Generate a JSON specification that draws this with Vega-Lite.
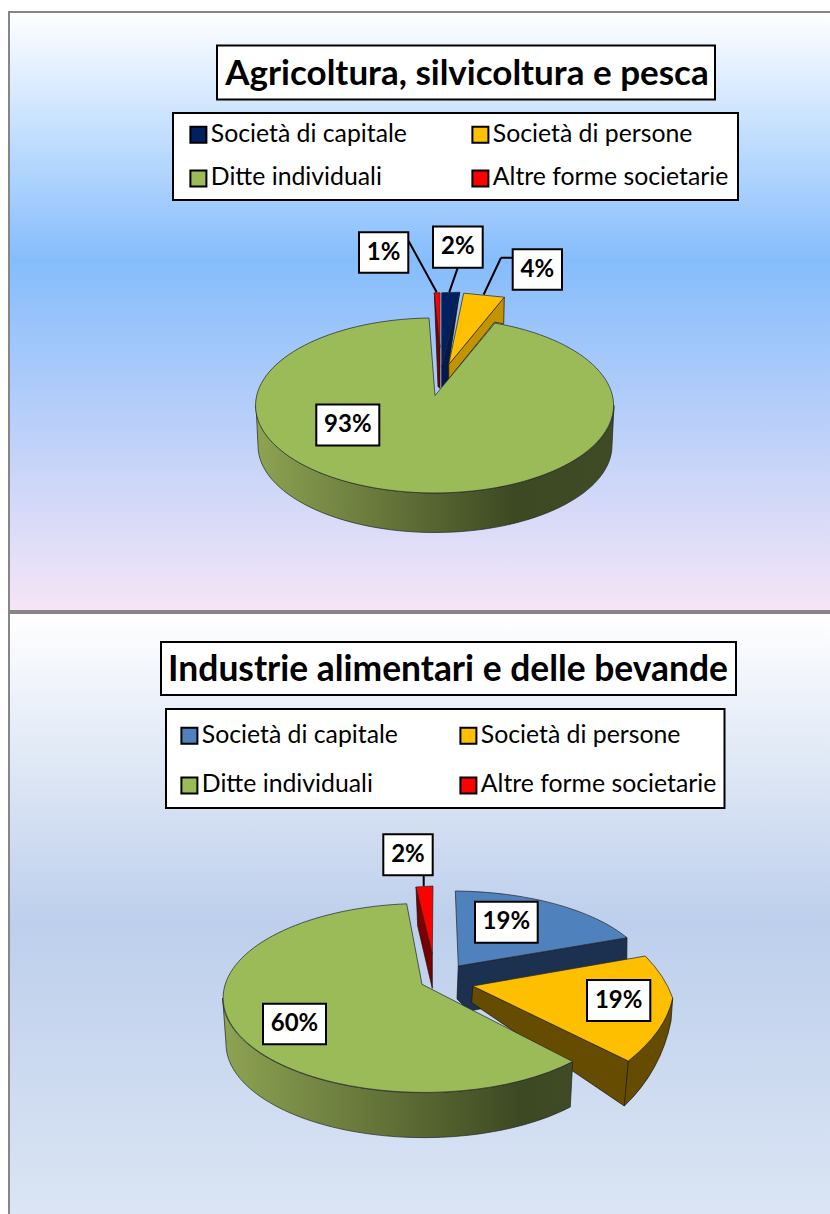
{
"$schema":"https://vega.github.io/schema/vega-lite/v6.json",
"padding":{"left":8,"top":11,"right":0,"bottom":0},
"background":"white",
"spacing":0,
"resolve":{"scale":{"color":"independent","shape":"independent","fill":"independent"},"legend":{"color":"independent"}},
"config":{"legend":{"strokeWidth":2},"font":"Lato"},
"datasets":{
"agri":[{"slice":"Società di capitale","share":0.02},{"slice":"Società di persone","share":0.04},{"slice":"Ditte individuali","share":0.93},{"slice":"Altre forme societarie","share":0.01}],
"food":[{"slice":"Società di capitale","share":0.19},{"slice":"Società di persone","share":0.19},{"slice":"Ditte individuali","share":0.60},{"slice":"Altre forme societarie","share":0.02}]
},
"vconcat":[
{"width":824,"height":599,
"title":{"text":"Agricoltura, silvicoltura e pesca","anchor":"middle","frame":"group","dx":46,"offset":-80,"font":"Lato","fontWeight":"bold","fontSize":35,"color":"black"},
"view":{"stroke":"#868686","strokeWidth":2,"fill":{"gradient":"linear","x1":0,"y1":0,"x2":0,"y2":1,"stops":[{"offset":0,"color":"#ffffff"},{"offset":0.415,"color":"#85bdfc"},{"offset":1,"color":"#f6e5f6"}]}},
"data":{"name":"agri"},
"resolve":{"scale":{"shape":"independent","fill":"independent"}},
"layer":[
{"mark":{"type":"point","shape":"M-204,-266 H294 V-212 H-204 Z","size":4,"filled":true,"fill":"white","stroke":"black","strokeWidth":2,"opacity":1},"transform":[{"filter":"datum.slice==='Ditte individuali'"}],"encoding":{}},
{"mark":{"type":"point","size":4,"filled":true,"opacity":1,"stroke":"#111","strokeWidth":0.7},
"transform":[{"filter":"datum.slice!=='Ditte individuali'"}],
"encoding":{
"fill":{"field":"slice","type":"nominal","legend":null,"scale":{"domain":["Società di capitale","Società di persone","Altre forme societarie"],"range":["#001a50","#c49300","#7a0000"]}},
"shape":{"field":"slice","type":"nominal","legend":null,"scale":{"domain":["Società di capitale","Società di persone","Altre forme societarie"],"range":["M38.7,-19.3 L27.7,52.3 L27.7,67.3 L20.7,75.7 L20.7,55.7 Z","M83.3,-14.3 L82.7,12.3 L73.5,10.7 L27.7,67.3 L27.7,53 Z","M13.3,-18.7 L19,36 L19,77 L17,75 Z"]}}
}},
{"mark":{"type":"point","shape":"M-165,94 A179,87.5 0 0 0 193,94 L191,134 A177,87 0 0 1 -163,134 Z","size":4,"filled":true,"opacity":1,"stroke":"#222","strokeWidth":0.7,"fill":{"gradient":"linear","x1":0,"y1":0,"x2":1,"y2":0,"stops":[{"offset":0,"color":"#8ea352"},{"offset":0.72,"color":"#3d4922"},{"offset":1,"color":"#3f4b24"}]}},
"transform":[{"filter":"datum.slice==='Ditte individuali'"}],"encoding":{}},
{"mark":{"type":"point","size":4,"filled":true,"opacity":1,"stroke":"#222","strokeWidth":0.7},
"encoding":{
"color":{"field":"slice","type":"nominal","sort":null,
"scale":{"domain":["Società di capitale","Società di persone","Ditte individuali","Altre forme societarie"],"range":["#002060","#ffc000","#9bbb59","#ff0000"]},
"legend":{"orient":"none","legendX":164,"legendY":101,"columns":2,"direction":"horizontal","title":null,"fillColor":"white","strokeColor":"black","padding":9,"symbolType":"square","symbolSize":256,"symbolStrokeColor":"black","symbolStrokeWidth":2,"symbolOffset":4,"labelFont":"Lato","labelFontSize":24.8,"labelColor":"black","labelOffset":0,"labelLimit":400,"rowPadding":18,"columnPadding":57,"gridAlign":"each"}},
"shape":{"field":"slice","type":"nominal","legend":null,"scale":{"domain":["Società di capitale","Società di persone","Ditte individuali","Altre forme societarie"],"range":["M20.7,-18.7 L38.7,-19.3 L20.7,55.7 Z","M42.7,-18.3 L83.3,-14.3 L27.7,53 Z","M14,84 L8,6.5 A179,87.5 0 1 0 74,11.6 Z","M13.3,-18.7 L19,-18.7 L19,36 Z"]}}
}},
{"mark":{"type":"point","size":4,"filled":true,"fill":"white","opacity":1,"stroke":"black","strokeWidth":2},
"encoding":{"shape":{"field":"slice","type":"nominal","legend":null,"scale":{"domain":["Società di capitale","Società di persone","Ditte individuali","Altre forme societarie"],"range":["M12,-85 H61.7 V-43.7 H12 Z M36.7,-43.7 L28.3,-19.3","M91.7,-62.3 H141 V-21.7 H91.7 Z M91.7,-53.7 L80,-53.7 M80,-53.7 L62.7,-17","M-104.7,93 H-41.7 V134 H-104.7 Z","M-62,-79.3 H-12.7 V-38.7 H-62 Z M-12.7,-71 L15.7,-19.3"]}}}},
{"mark":{"type":"text","font":"Lato","fontWeight":"bold","fontSize":24,"color":"black","baseline":"middle","align":"center",
"dx":{"expr":"{'Società di capitale':36.85,'Società di persone':116.35,'Ditte individuali':-73.2,'Altre forme societarie':-37.35}[datum.slice]"},
"dy":{"expr":"{'Società di capitale':-64.35,'Società di persone':-42,'Ditte individuali':113.5,'Altre forme societarie':-59}[datum.slice]"}},
"encoding":{"text":{"field":"share","type":"quantitative","format":".0%"}}}
]},
{"width":824,"height":606,
"title":{"text":"Industrie alimentari e delle bevande","anchor":"middle","frame":"group","dx":27,"offset":-75,"font":"Lato","fontWeight":"bold","fontSize":35.4,"color":"black"},
"view":{"stroke":"#868686","strokeWidth":2,"fill":{"gradient":"linear","x1":0,"y1":0,"x2":0,"y2":1,"stops":[{"offset":0,"color":"#ffffff"},{"offset":0.51,"color":"#bdcfec"},{"offset":1,"color":"#dbe5f4"}]}},
"data":{"name":"food"},
"resolve":{"scale":{"shape":"independent","fill":"independent"}},
"layer":[
{"mark":{"type":"point","yOffset":-3,"shape":"M-260,-271 H315 V-218 H-260 Z M-255,-204 H303.5 V-105 H-255 Z","size":4,"filled":true,"fill":"white","stroke":"black","strokeWidth":2,"opacity":1},"transform":[{"filter":"datum.slice==='Ditte individuali'"}],"encoding":{}},
{"mark":{"type":"point","yOffset":-2,"size":4,"filled":true,"opacity":1,"stroke":"#111","strokeWidth":0.7},
"transform":[{"filter":"datum.slice!=='Ditte individuali'"}],
"encoding":{
"fill":{"field":"slice","type":"nominal","legend":null,"scale":{"domain":["Società di capitale","Società di persone","Altre forme societarie"],"range":["#1c3150","#654c00","#7a0000"]}},
"shape":{"field":"slice","type":"nominal","legend":null,"scale":{"domain":["Società di capitale","Società di persone","Altre forme societarie"],"range":["M37.3,52 L206,23.7 L205.5,67 L48,97 L36,85 Z","M51.7,72 L207.3,147 Q245,117 251.7,84 L250,107 Q240,157 203.3,192 L50.7,88.7 Z M207.3,147 L203.3,192","M-5,-27 L11.3,40 L11.3,74.3 L-3.3,12 Z"]}}
}},
{"mark":{"type":"point","yOffset":-2,"shape":"M-198.3,84 A201,94.5 0 0 0 151.7,147.6 L149.3,193 A198,94 0 0 1 -195,130 Z","size":4,"filled":true,"opacity":1,"stroke":"#222","strokeWidth":0.7,"fill":{"gradient":"linear","x1":0,"y1":0,"x2":1,"y2":0,"stops":[{"offset":0,"color":"#8ea352"},{"offset":0.85,"color":"#3d4922"},{"offset":1,"color":"#3f4b24"}]}},
"transform":[{"filter":"datum.slice==='Ditte individuali'"}],"encoding":{}},
{"mark":{"type":"point","yOffset":-2,"size":4,"filled":true,"opacity":1,"stroke":"#222","strokeWidth":0.7},
"encoding":{
"color":{"field":"slice","type":"nominal","sort":null,
"scale":{"domain":["Società di capitale","Società di persone","Ditte individuali","Altre forme societarie"],"range":["#4f81bd","#fdbf00","#9bbb59","#ff0000"]},
"legend":{"orient":"none","legendX":157,"legendY":102,"columns":2,"direction":"horizontal","title":null,"padding":8,"symbolType":"square","symbolSize":256,"symbolStrokeColor":"black","symbolStrokeWidth":2,"symbolOffset":3,"labelFont":"Lato","labelFontSize":24.8,"labelColor":"black","labelOffset":0,"labelLimit":400,"rowPadding":24,"columnPadding":55,"gridAlign":"each"}},
"shape":{"field":"slice","type":"nominal","legend":null,"scale":{"domain":["Società di capitale","Società di persone","Ditte individuali","Altre forme societarie"],"range":["M34.3,-23 A200,90 0 0 1 206,23.7 L37.3,52 Z","M51.7,72 L224.3,42 Q244,62 251.7,84 Q245,117 207.3,147 Z","M1,70.3 L-14.3,-10.2 A201,94.5 0 1 0 151.7,147.6 Z","M-5,-27 L12,-28 L11.3,40 Z"]}}
}},
{"mark":{"type":"point","yOffset":-2,"size":4,"filled":true,"fill":"white","opacity":1,"stroke":"black","strokeWidth":2},
"encoding":{"shape":{"field":"slice","type":"nominal","legend":null,"scale":{"domain":["Società di capitale","Società di persone","Ditte individuali","Altre forme societarie"],"range":["M54,-12.3 H116.7 V28.7 H54 Z","M166,66 H229.3 V107 H166 Z","M-158,89.7 H-95 V130.3 H-158 Z","M-37.7,-79.7 H11.7 V-38.7 H-37.7 Z M2.7,-38.7 L2.7,-28"]}}}},
{"mark":{"type":"text","yOffset":-2,"font":"Lato","fontWeight":"bold","fontSize":24,"color":"black","baseline":"middle","align":"center",
"dx":{"expr":"{'Società di capitale':85.35,'Società di persone':197.65,'Ditte individuali':-126.5,'Altre forme societarie':-13}[datum.slice]"},
"dy":{"expr":"{'Società di capitale':8.2,'Società di persone':86.5,'Ditte individuali':110,'Altre forme societarie':-59.2}[datum.slice]"}},
"encoding":{"text":{"field":"share","type":"quantitative","format":".0%"}}}
]}
]
}
